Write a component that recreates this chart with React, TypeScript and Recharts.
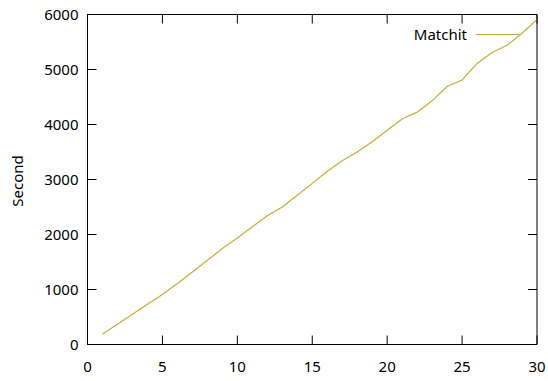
import { LineChart, Line, XAxis, YAxis, ReferenceLine } from "recharts";

const runs = [1, 2, 3, 4, 5, 6, 7, 8, 9, 10, 11, 12, 13, 14, 15, 16, 17, 18, 19, 20, 21, 22, 23, 24, 25, 26, 27, 28, 29, 30];
const matchit = [190, 370, 550, 730, 910, 1110, 1320, 1530, 1745, 1935, 2140, 2340, 2500, 2715, 2930, 3150, 3340, 3500, 3685, 3895, 4100, 4225, 4430, 4690, 4810, 5110, 5310, 5440, 5660, 5910];
const xTicks = [0, 5, 10, 15, 20, 25, 30];
const yTicks = [0, 1000, 2000, 3000, 4000, 5000, 6000];

const data = runs.map((r, i) => ({ run: r, matchit: matchit[i] }));

const FONT = "'Noto Sans', sans-serif";
const LINE_COLOR = "#c4ae3a";

// inner ticks, mirrored on the top edge (plot height is 330)
const BottomTick = ({ x, y, payload }: any) => (
  <g>
    <line x1={x} y1={y} x2={x} y2={y - 9} stroke="#000" strokeWidth={1} />
    <line x1={x} y1={y - 330} x2={x} y2={y - 321} stroke="#000" strokeWidth={1} />
    <text x={x} y={y + 27.5} textAnchor="middle" fontSize={15} fontFamily={FONT} fill="#000">
      {payload.value}
    </text>
  </g>
);

// inner ticks, mirrored on the right edge (plot width is 449.5)
const LeftTick = ({ x, y, payload }: any) => (
  <g>
    <line x1={x} y1={y} x2={x + 9} y2={y} stroke="#000" strokeWidth={1} />
    <line x1={x + 449.5} y1={y} x2={x + 440.5} y2={y} stroke="#000" strokeWidth={1} />
    <text x={x - 9} y={y + 5} textAnchor="end" fontSize={15} fontFamily={FONT} fill="#000">
      {payload.value}
    </text>
  </g>
);

export default function App() {
  return (
    <div style={{ position: "absolute", left: 0, top: 0, width: 548, height: 381, background: "#fff" }}>
      <LineChart width={548} height={381} data={data} margin={{ top: 14.5, right: 11, left: 0.5, bottom: 0 }}>
        <XAxis
          dataKey="run"
          type="number"
          domain={[0, 30]}
          ticks={xTicks}
          height={36.5}
          tickSize={0}
          tickMargin={0}
          tickLine={false}
          tick={<BottomTick />}
          axisLine={{ stroke: "#000" }}
          interval={0}
        />
        <YAxis
          type="number"
          domain={[0, 6000]}
          ticks={yTicks}
          width={87}
          tickSize={0}
          tickMargin={0}
          tickLine={false}
          tick={<LeftTick />}
          axisLine={{ stroke: "#000" }}
          interval={0}
        />
        <ReferenceLine y={6000} stroke="#000" strokeWidth={1} />
        <ReferenceLine x={30} stroke="#000" strokeWidth={1} />
        <Line
          dataKey="matchit"
          name="Matchit"
          type="linear"
          stroke={LINE_COLOR}
          strokeWidth={1.2}
          dot={false}
          isAnimationActive={false}
        />
        <text
          x={16.7}
          y={181}
          transform="rotate(-90 16.7 181)"
          textAnchor="middle"
          dominantBaseline="central"
          fontSize={15}
          fontFamily={FONT}
          fill="#000"
        >
          Second
        </text>
        <text x={467} y={40} textAnchor="end" fontSize={15} fontFamily={FONT} fill="#000">
          Matchit
        </text>
        <line x1={476} y1={34.5} x2={519} y2={34.5} stroke={LINE_COLOR} strokeWidth={1.2} />
      </LineChart>
    </div>
  );
}
